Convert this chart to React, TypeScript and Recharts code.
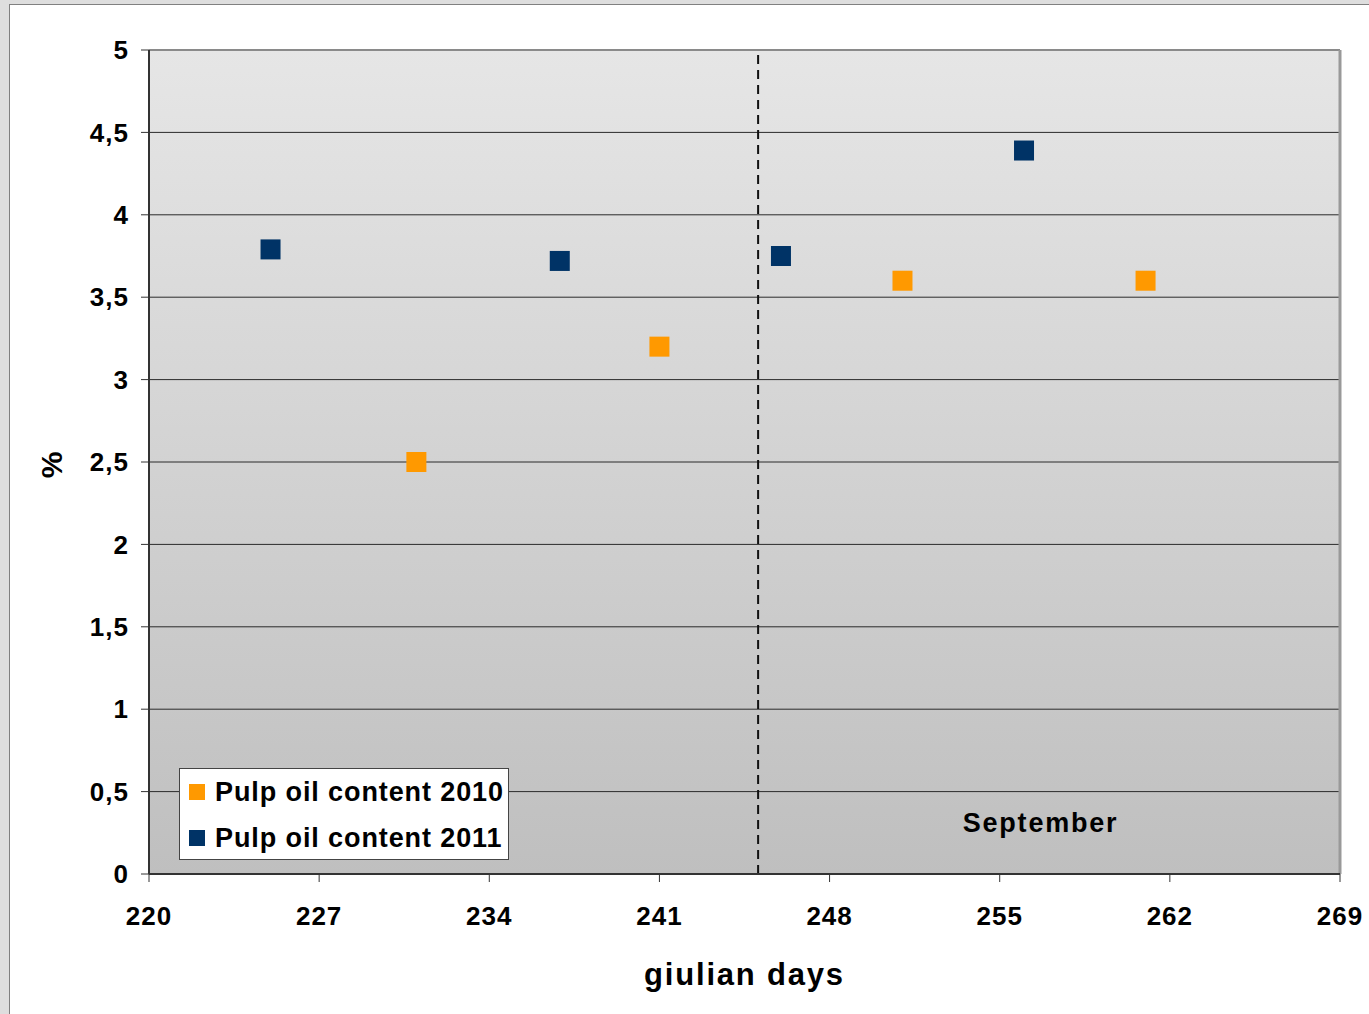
import React from 'react';
import {
  ScatterChart,
  Scatter,
  XAxis,
  YAxis,
  CartesianGrid,
  ReferenceLine,
  ReferenceArea,
  Legend,
} from 'recharts';

// ---- data ----
const xTicks = [220, 227, 234, 241, 248, 255, 262, 269];
const yTicks = [0, 0.5, 1, 1.5, 2, 2.5, 3, 3.5, 4, 4.5, 5];

const days2010 = [231, 241, 251, 261];
const oil2010 = [2.5, 3.2, 3.6, 3.6];

const days2011 = [225, 236.9, 246, 256];
const oil2011 = [3.79, 3.72, 3.75, 4.39];

const septemberStart = 245.06;
const septemberLabel = 'September';

const seriesNames = ['Pulp oil content 2010', 'Pulp oil content 2011'];
const seriesColors = ['#ff9900', '#003366'];

const data2010 = days2010.map((d, i) => ({ day: d, oil: oil2010[i] }));
const data2011 = days2011.map((d, i) => ({ day: d, oil: oil2011[i] }));

const FONT = '"Liberation Sans", Arial, sans-serif';

const SquareShape = (props: any) => {
  const { cx, cy, fill } = props;
  if (cx == null || cy == null) return null;
  return <rect x={cx - 10} y={cy - 10} width={20} height={20} fill={fill} />;
};

const fmt = (v: number) => String(v).replace('.', ',');

const LegendBox = () => (
  <div
    style={{
      background: '#ffffff',
      border: '1px solid #444',
      width: 328,
      height: 90,
      boxSizing: 'content-box',
      fontFamily: FONT,
      fontWeight: 'bold',
      fontSize: 27,
      color: '#000',
      position: 'relative',
    }}
  >
    {seriesNames.map((name, i) => (
      <div
        key={name}
        style={{
          position: 'absolute',
          left: 9,
          top: 8 + i * 46,
          height: 30,
          display: 'flex',
          alignItems: 'center',
          whiteSpace: 'nowrap',
        }}
      >
        <span
          style={{
            display: 'inline-block',
            width: 16,
            height: 16,
            background: seriesColors[i],
            marginRight: 10,
          }}
        />
        <span style={{ letterSpacing: 0.9 }}>{name}</span>
      </div>
    ))}
  </div>
);

const YLabel = (props: any) => {
  const vb = props.viewBox || { x: 49, y: 50, width: 100, height: 824 };
  const cx = vb.x + 2;
  const cy = vb.y + vb.height / 2 + 3;
  return (
    <text
      x={cx}
      y={cy}
      textAnchor="middle"
      dominantBaseline="central"
      transform={`rotate(-90 ${cx} ${cy})`}
      fontFamily={FONT}
      fontWeight="bold"
      fontSize={30}
      fill="#000"
    >
      %
    </text>
  );
};

const tickStyle = {
  fontFamily: FONT,
  fontWeight: 'bold',
  fontSize: 26,
  fill: '#000',
  letterSpacing: 1,
};

export default function App() {
  return (
    <div
      style={{
        position: 'absolute',
        left: 0,
        top: 0,
        width: 1369,
        height: 1014,
        background: '#dedede',
        overflow: 'hidden',
      }}
    >
      <svg width={0} height={0} style={{ position: 'absolute' }}>
        <defs>
          <linearGradient id="plotBg" x1="0" y1="0" x2="0" y2="1">
            <stop offset="0%" stopColor="#e6e6e6" />
            <stop offset="100%" stopColor="#bfbfbf" />
          </linearGradient>
        </defs>
      </svg>
      <div
        style={{
          position: 'absolute',
          left: 9,
          top: 4,
          right: 0,
          bottom: 0,
          background: '#ffffff',
          borderLeft: '1px solid #808080',
          borderTop: '1px solid #808080',
        }}
      />
      <div style={{ position: 'absolute', left: 0, top: 0 }}>
        <ScatterChart
          width={1369}
          height={1014}
          margin={{ top: 50, right: 29, left: 49, bottom: 20 }}
        >
          <CartesianGrid
            vertical={false}
            stroke="#2a2a2a"
            strokeWidth={1}
            fill="url(#plotBg)"
            fillOpacity={1}
          />
          <XAxis
            type="number"
            dataKey="day"
            domain={[220, 269]}
            ticks={xTicks}
            interval={0}
            height={120}
            tickSize={8}
            tickMargin={25}
            axisLine={{ stroke: '#333', strokeWidth: 2 }}
            tickLine={{ stroke: '#333', strokeWidth: 1 }}
            tick={tickStyle}
            label={{
              value: 'giulian days',
              position: 'insideBottom',
              offset: 9,
              style: {
                fontFamily: FONT,
                fontWeight: 'bold',
                fontSize: 31,
                fill: '#000',
                letterSpacing: 1.8,
              },
            }}
          />
          <YAxis
            type="number"
            dataKey="oil"
            domain={[0, 5]}
            ticks={yTicks}
            interval={0}
            width={100}
            tickSize={8}
            tickMargin={12}
            tickFormatter={fmt}
            axisLine={{ stroke: '#333', strokeWidth: 2 }}
            tickLine={{ stroke: '#333', strokeWidth: 1 }}
            tick={tickStyle}
            label={<YLabel />}
          />
          <ReferenceLine y={5} stroke="#8a8a8a" strokeWidth={2} />
          <ReferenceLine x={269} stroke="#999999" strokeWidth={3} />
          <ReferenceArea
            x1={septemberStart}
            x2={268.3}
            y1={0}
            y2={5}
            fill="none"
            stroke="none"
            label={{
              value: septemberLabel,
              position: 'insideBottom',
              offset: 42,
              style: {
                fontFamily: FONT,
                fontWeight: 'bold',
                fontSize: 27,
                fill: '#000',
                letterSpacing: 1.8,
              },
            }}
          />
          <ReferenceLine
            x={septemberStart}
            stroke="#111"
            strokeWidth={2}
            strokeDasharray="9 6"
          />
          <Scatter
            name={seriesNames[0]}
            data={data2010}
            fill={seriesColors[0]}
            shape={<SquareShape />}
            isAnimationActive={false}
          />
          <Scatter
            name={seriesNames[1]}
            data={data2011}
            fill={seriesColors[1]}
            shape={<SquareShape />}
            isAnimationActive={false}
          />
          <Legend
            layout="vertical"
            align="center"
            verticalAlign="middle"
            content={() => <LegendBox />}
            wrapperStyle={{ position: 'absolute', left: 179, top: 768, width: 330, height: 92 }}
          />
        </ScatterChart>
      </div>
    </div>
  );
}
